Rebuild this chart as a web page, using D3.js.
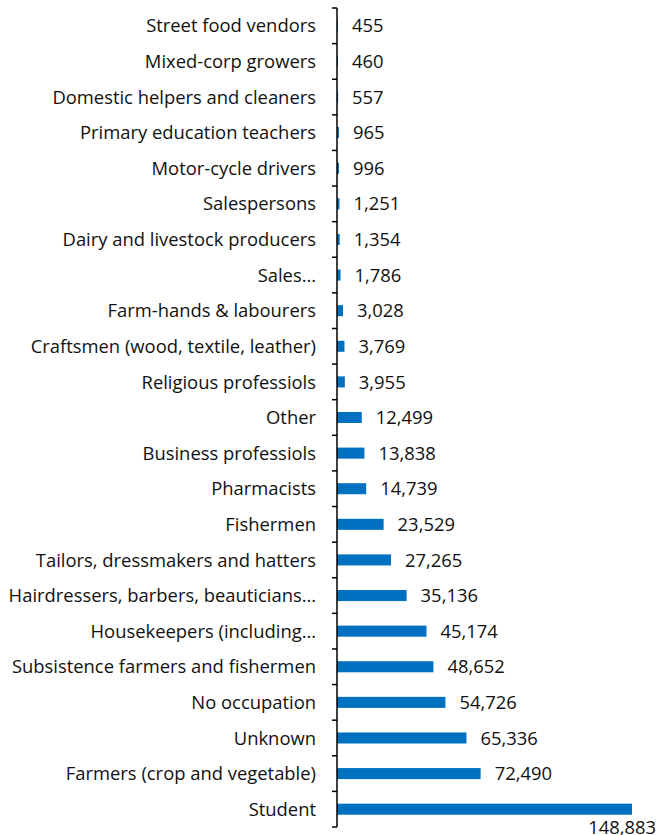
<!DOCTYPE html>
<html lang="en">
<head>
<meta charset="UTF-8">
<title>Occupations</title>
<script src="https://d3js.org/d3.v7.min.js"></script>
<style>
  * { margin: 0; padding: 0; }
  body { background: #fff; width: 659px; height: 835px; overflow: hidden; }
  svg { display: block; }
  text { font-family: 'Open Sans', sans-serif; font-size: 18.4px; fill: #111; }
</style>
</head>
<body>
<svg id="chart" width="659" height="835"></svg>
<script>
// categories top to bottom
const categories = [
  "Street food vendors", "Mixed-corp growers", "Domestic helpers and cleaners",
  "Primary education teachers", "Motor-cycle drivers", "Salespersons",
  "Dairy and livestock producers", "Sales\u2026", "Farm-hands & labourers",
  "Craftsmen (wood, textile, leather)", "Religious professiols", "Other",
  "Business professiols", "Pharmacists", "Fishermen",
  "Tailors, dressmakers and hatters", "Hairdressers, barbers, beauticians\u2026",
  "Housekeepers (including\u2026", "Subsistence farmers and fishermen",
  "No occupation", "Unknown", "Farmers (crop and vegetable)", "Student"
];
const values = [
  455, 460, 557, 965, 996, 1251, 1354, 1786, 3028, 3769, 3955, 12499,
  13838, 14739, 23529, 27265, 35136, 45174, 48652, 54726, 65336, 72490, 148883
];

const svg = d3.select("#chart");
const axisX = 337;

const x = d3.scaleLinear().domain([0, 148883]).range([axisX, 632]);
const y = d3.scaleBand().domain(categories).range([8, 827]).paddingInner(0.69).paddingOuter(0.345);

const fmt = d3.format(",");

// bars
svg.selectAll("rect.bar")
  .data(values)
  .enter().append("rect")
  .attr("class", "bar")
  .attr("x", x(0))
  .attr("y", (d, i) => y(categories[i]))
  .attr("width", d => x(d) - x(0))
  .attr("height", y.bandwidth())
  .attr("fill", "#0070c0");

// category labels
svg.selectAll("text.cat")
  .data(categories)
  .enter().append("text")
  .attr("class", "cat")
  .attr("x", 316)
  .attr("y", d => y(d) + y.bandwidth() / 2)
  .attr("dy", "0.36em")
  .attr("text-anchor", "end")
  .text(d => d);

// value labels (the last one sits under its bar, at the right edge)
const last = values.length - 1;
svg.selectAll("text.val")
  .data(values)
  .enter().append("text")
  .attr("class", "val")
  .attr("x", (d, i) => i === last ? 656 : x(d) + 14)
  .attr("y", (d, i) => i === last ? 834 : y(categories[i]) + y.bandwidth() / 2)
  .attr("dy", (d, i) => i === last ? 0 : "0.36em")
  .attr("text-anchor", (d, i) => i === last ? "end" : "start")
  .text(d => fmt(d));

// axis line with ticks on band boundaries
const bounds = d3.range(categories.length + 1).map(i => 8 + i * y.step());
svg.append("line")
  .attr("x1", axisX).attr("x2", axisX)
  .attr("y1", 8).attr("y2", 827)
  .attr("stroke", "#000").attr("stroke-width", 1.5);
svg.selectAll("line.tick")
  .data(bounds)
  .enter().append("line")
  .attr("class", "tick")
  .attr("x1", axisX - 5).attr("x2", axisX)
  .attr("y1", d => d).attr("y2", d => d)
  .attr("stroke", "#000").attr("stroke-width", 1.5);
</script>
</body>
</html>
